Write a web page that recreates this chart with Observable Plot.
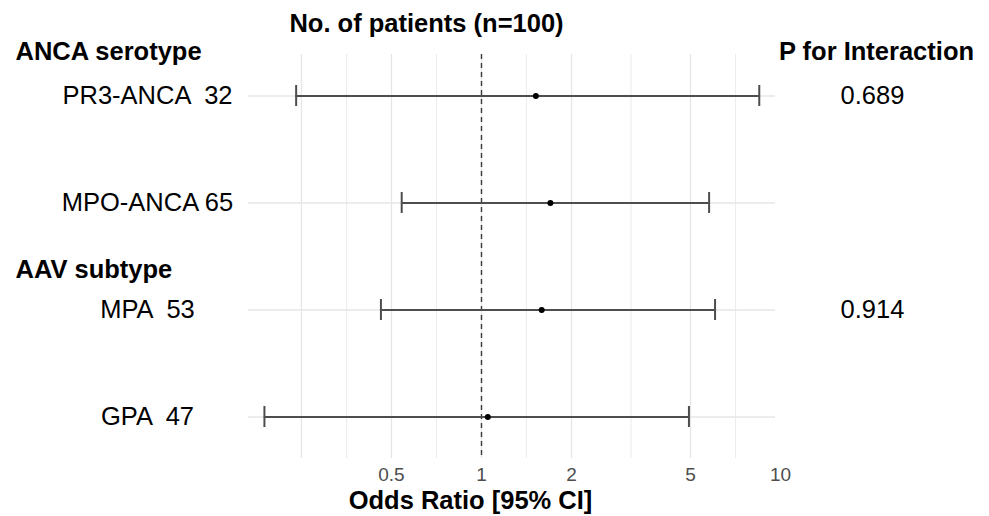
<!DOCTYPE html>
<html>
<head>
<meta charset="utf-8">
<script src="https://cdn.jsdelivr.net/npm/d3@7"></script>
<script src="https://cdn.jsdelivr.net/npm/@observablehq/plot@0.6"></script>
<style>
  html, body { margin: 0; padding: 0; background: #fff; }
  #chart svg text { white-space: pre; }
</style>
</head>
<body>
<div id="chart"></div>
<script>
// ---- data ----
const rows       = ["PR3-ANCA", "MPO-ANCA", "MPA", "GPA"];
const rowLabels  = ["PR3-ANCA  32", "MPO-ANCA 65", "MPA  53", "GPA  47"];
const oddsRatio  = [1.52, 1.70, 1.59, 1.05];
const ciLower    = [0.240, 0.541, 0.461, 0.188];
const ciUpper    = [8.49, 5.77, 6.04, 4.94];
const pInteract  = ["0.689", "", "0.914", ""];
const groupNames = ["ANCA serotype", "AAV subtype"];
const groupFirst = ["PR3-ANCA", "MPA"];
const xTicks     = [0.5, 1, 2, 5, 10];
const gridMajor  = [0.25, 0.5, 1, 2, 5];
const gridMinor  = [0.354, 0.707, 1.414, 3.162, 7.071];
const titleText  = "No. of patients (n=100)";
const pHeader    = "P for Interaction";
const xLabel     = "Odds Ratio [95% CI]";

const data = rows.map((r, i) => ({
  name: r, label: rowLabels[i], or: oddsRatio[i],
  lo: ciLower[i], hi: ciUpper[i], p: pInteract[i]
}));
const groups = groupNames.map((g, i) => ({ name: g, row: groupFirst[i] }));

const font = "'Liberation Sans', Arial, Helvetica, sans-serif";
const W = 989, H = 516;
const mL = 248, mR = 214, mT = 54, mB = 58;
const big = 25.5;

const chart = Plot.plot({
  width: W, height: H,
  marginLeft: mL, marginRight: mR, marginTop: mT, marginBottom: mB,
  style: { fontFamily: font, background: "#fff", color: "#000", overflow: "visible" },
  x: { type: "log", domain: [0.1663, 9.62], axis: null },
  y: { type: "band", domain: rows, paddingInner: 0.8, paddingOuter: 0.28, axis: null },
  marks: [
    // grid
    Plot.ruleX(gridMinor, { stroke: "#ececec", strokeWidth: 1.1 }),
    Plot.ruleX(gridMajor, { stroke: "#e6e6e6", strokeWidth: 1.3 }),
    Plot.ruleY(rows, { y: d => d, stroke: "#e6e6e6", strokeWidth: 1.3 }),
    // reference line
    Plot.ruleX([1], { stroke: "#3a3a3a", strokeWidth: 1.4, strokeDasharray: "5,4" }),
    // CIs
    Plot.ruleY(data, { y: "name", x1: "lo", x2: "hi", stroke: "#4d4d4d", strokeWidth: 2 }),
    Plot.tickX(data, { y: "name", x: "lo", stroke: "#4d4d4d", strokeWidth: 2 }),
    Plot.tickX(data, { y: "name", x: "hi", stroke: "#4d4d4d", strokeWidth: 2 }),
    Plot.dot(data, { y: "name", x: "or", r: 3, fill: "#000", stroke: null }),
    // x axis
    Plot.axisX({ ticks: xTicks, tickSize: 0, tickPadding: 9, fontSize: 19, fill: "#4d4d4d",
                 tickFormat: d => String(d), label: null }),
    // row labels
    Plot.text(data, { y: "name", text: "label", frameAnchor: "left", dx: 147 - mL,
                      textAnchor: "middle", fontSize: big, fill: "#000" }),
    // group headers
    Plot.text(groups.slice(0, 1), { y: "row", text: "name", frameAnchor: "left", dx: 15 - mL, dy: -44,
                      textAnchor: "start", fontSize: big, fontWeight: "bold", fill: "#000" }),
    Plot.text(groups.slice(1), { y: "row", text: "name", frameAnchor: "left", dx: 15 - mL, dy: -40,
                      textAnchor: "start", fontSize: big, fontWeight: "bold", fill: "#000" }),
    // p values
    Plot.text(data, { y: "name", text: "p", frameAnchor: "right", dx: 97,
                      textAnchor: "middle", fontSize: big, fill: "#000" }),
    Plot.text([pHeader], { frameAnchor: "top-right", dx: 101, dy: -3,
                      textAnchor: "middle", lineAnchor: "middle", fontSize: big, fontWeight: "bold", fill: "#000" }),
    // title
    Plot.text([titleText], { frameAnchor: "top", dx: 426 - (mL + (W - mR)) / 2, dy: -31,
                      textAnchor: "middle", lineAnchor: "middle", fontSize: big, fontWeight: "bold", fill: "#000" }),
    // x label
    Plot.text([xLabel], { frameAnchor: "bottom", dx: 470 - (mL + (W - mR)) / 2, dy: 42,
                      textAnchor: "middle", lineAnchor: "middle", fontSize: big, fontWeight: "bold", fill: "#000" })
  ]
});
document.getElementById("chart").appendChild(chart);
</script>
</body>
</html>
